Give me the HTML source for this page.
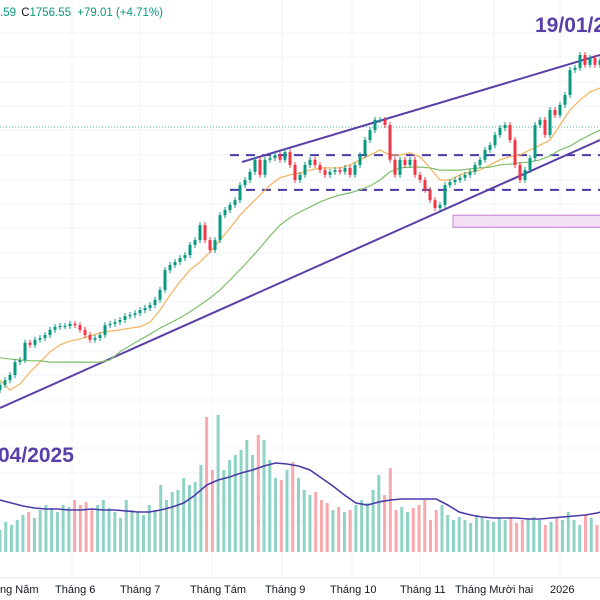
<!DOCTYPE html>
<html><head><meta charset="utf-8"><style>
html,body{margin:0;padding:0;background:#fff;width:600px;height:600px;overflow:hidden}
svg{display:block;font-family:"Liberation Sans","DejaVu Sans",sans-serif}
</style></head><body>
<svg id="chart" width="600" height="600" viewBox="0 0 600 600" xmlns="http://www.w3.org/2000/svg">
<rect x="0" y="0" width="600" height="600" fill="#ffffff"/>
<g id="grid"></g>
<g id="vol"></g>
<g id="price"></g>
<line x1="0" y1="578" x2="600" y2="578" stroke="#e0e3eb" stroke-width="1"/>
<g id="xaxis" font-size="11" fill="#131722"></g>
<text x="0" y="16" font-size="11.5" fill="#089981">.59 <tspan fill="#131722" dx="2">C</tspan>1756.55 <tspan dx="3">+79.01 (+4.71%)</tspan></text>
<text x="535" y="32" font-size="21" font-weight="bold" fill="#5b3fa8">19/01/2026</text>
<text x="-2" y="462" font-size="21" font-weight="bold" fill="#5b3fa8">04/2025</text>
</svg>
<script>
const closes=[1112,1123,1135,1165,1170,1210,1205,1217,1221,1228,1240,1247,1249,1249,1254,1251,1240,1228,1217,1221,1228,1251,1254,1258,1263,1272,1275,1279,1286,1291,1298,1310,1333,1379,1391,1398,1407,1414,1438,1449,1484,1449,1426,1449,1507,1519,1531,1542,1577,1589,1608,1636,1601,1636,1640,1647,1636,1654,1624,1589,1601,1624,1636,1624,1612,1601,1608,1612,1608,1617,1601,1624,1647,1682,1705,1729,1729,1717,1636,1601,1636,1624,1636,1601,1589,1566,1542,1524,1531,1577,1584,1589,1594,1601,1608,1624,1636,1659,1670,1694,1710,1717,1682,1624,1589,1612,1640,1717,1729,1694,1752,1740,1764,1787,1845,1850,1880,1857,1873,1857,1868];
const ma20=[1123,1100,1114,1142,1165,1189,1205,1214,1219,1226,1233,1237,1240,1244,1247,1258,1286,1321,1352,1380,1398,1421,1449,1477,1507,1531,1554,1577,1594,1601,1605,1612,1617,1617,1617,1624,1636,1647,1659,1647,1647,1652,1643,1617,1589,1589,1601,1608,1612,1624,1636,1643,1647,1659,1670,1682,1717,1752,1775,1794,1803];
const ma50=[1175,1172,1170,1168,1168,1165,1165,1165,1165,1165,1165,1170,1189,1203,1217,1230,1244,1256,1268,1282,1298,1314,1333,1356,1380,1405,1431,1459,1484,1501,1515,1526,1538,1547,1554,1559,1566,1575,1589,1608,1617,1619,1619,1617,1612,1612,1612,1615,1617,1619,1624,1626,1629,1631,1636,1645,1659,1668,1682,1694,1705];
const volumes=[440,600,540,640,740,800,680,840,940,880,800,940,900,1040,940,1000,840,940,1040,880,800,680,1040,840,800,740,940,840,1340,1040,1200,1240,1480,1340,1400,1740,2700,1640,2740,1640,1840,1940,2040,2240,1940,2340,2240,1840,1480,1440,1640,1800,1480,1240,1140,1200,1040,980,840,900,800,840,940,1040,980,1240,1540,1140,1680,840,900,800,880,940,1040,640,840,940,740,640,700,640,580,740,680,640,600,680,640,700,580,640,680,700,640,540,600,700,640,800,640,540,740,680,540,640,800,840,940,980,1140,1200,1280,1340,1240,1440,1280,1040,1140,1040,1140];
const volMA=[1040,980,920,880,860,860,840,840,860,840,840,820,800,800,840,900,980,1140,1340,1440,1500,1580,1640,1720,1780,1760,1720,1640,1480,1320,1140,980,940,1000,1040,1060,1060,1060,1060,940,800,740,700,680,680,680,660,660,680,700,720,740,780,840,900,980,1040,1080,1100,1140,1180];
const monthLabels=["ng Năm","Tháng 6","Tháng 7","Tháng Tám","Tháng 9","Tháng 10","Tháng 11","Tháng Mười hai","2026"];
const monthIndex=[0,11,24,38,53,66,80,91,110];
const levelUpper=1647, levelLower=1566;
const zoneTop=1507, zoneBottom=1479;

const NS="http://www.w3.org/2000/svg";
const step=5, volStep=5.74;
function xAt(i){return i*step;}
function xVol(i){return i*volStep;}
function yPrice(v){return 55+(1880-v)*0.4295;}
function yVol(v){return 552-v/20;}
function mk(tag,attrs,parent){const e=document.createElementNS(NS,tag);for(const k in attrs)e.setAttribute(k,attrs[k]);parent.appendChild(e);return e;}
const grid=document.getElementById('grid'),pr=document.getElementById('price'),vg=document.getElementById('vol'),xa=document.getElementById('xaxis');

[72,140,212,282,352,420,494,560].forEach(x=>{const l=mk('line',{x1:x,y1:0,x2:x,y2:578,stroke:'#f0f3fa','stroke-width':1},grid);

});
[33,57,82,106,130,155,180,204,228,253,278,302,326,351,375,400,424,448,473,497,521].forEach(y=>{const l=mk('line',{x1:0,y1:y,x2:600,y2:y,stroke:'#f0f3fa','stroke-width':1},grid);

});

volumes.forEach((v,i)=>{const x=xVol(i);if(x>602)return;
const ci=Math.min(closes.length-1,Math.round(x/step));
const up=ci===0?true:closes[ci]>=closes[ci-1];
const b=mk('rect',{x:x-1.5,y:yVol(v),width:3,height:552-yVol(v),fill:up?'#8fd3c7':'#f7a9ad'},vg);

});
const vp=mk('polyline',{points:volMA.map((v,i)=>(i*2*volStep)+','+yVol(v)).join(' '),fill:'none',stroke:'#4a3aa7','stroke-width':1.6},vg);



const z=mk('rect',{x:453,y:yPrice(zoneTop),width:150,height:yPrice(zoneBottom)-yPrice(zoneTop),fill:'#f3e0f7',stroke:'#c47fd4','stroke-width':1},pr);


const dl=mk('line',{x1:0,y1:127,x2:600,y2:127,stroke:'#4fb8a6','stroke-width':1,'stroke-dasharray':'1 2'},pr);


[levelUpper,levelLower].forEach(v=>{const l=mk('line',{x1:230,y1:yPrice(v),x2:600,y2:yPrice(v),stroke:'#4a3aa7','stroke-width':2,'stroke-dasharray':'9 7'},pr);

});
const t1=mk('line',{x1:242,y1:162,x2:600,y2:55,stroke:'#5b3fa8','stroke-width':2},pr);


const t2=mk('line',{x1:0,y1:408,x2:600,y2:140,stroke:'#5b3fa8','stroke-width':2},pr);



const m1=mk('polyline',{points:ma20.map((v,i)=>(i*10)+','+yPrice(v)).join(' '),fill:'none',stroke:'#f5b25a','stroke-width':1.2},pr);


const m2=mk('polyline',{points:ma50.map((v,i)=>(i*10)+','+yPrice(v)).join(' '),fill:'none',stroke:'#7fbf6a','stroke-width':1.2},pr);



closes.forEach((c,i)=>{const o=i===0?1100:closes[i-1];const up=c>=o;const col=up?'#089981':'#f23645';
const yt=yPrice(Math.max(o,c)),yb=yPrice(Math.min(o,c));
const w=mk('line',{x1:xAt(i),y1:yt-3,x2:xAt(i),y2:yb+3,stroke:col,'stroke-width':1},pr);


const b=mk('rect',{x:xAt(i)-1.5,y:yt,width:3,height:Math.max(1,yb-yt),fill:col},pr);

});

monthLabels.forEach((m,k)=>{const t=mk('text',{x:xAt(monthIndex[k]),y:593,'font-size':11},xa);t.textContent=m;

});
</script>
</body></html>
